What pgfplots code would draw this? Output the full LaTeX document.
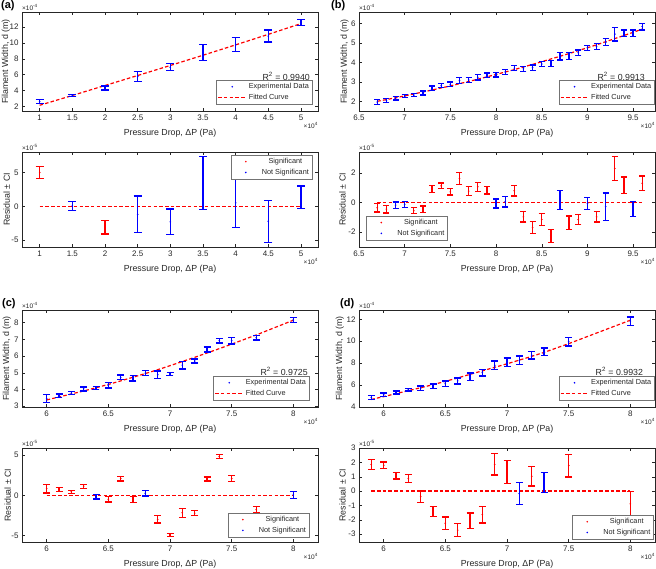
\documentclass[border=0pt]{standalone}
\usepackage{pgfplots}
\usepackage{pgfplotstable}
\usepackage{fontspec}
\setmainfont{Liberation Sans}
\pgfplotsset{compat=1.18}

\definecolor{axgray}{gray}{0.15}
\definecolor{mblue}{rgb}{0,0,1}
\definecolor{mred}{rgb}{1,0,0}

\pgfplotsset{
  panel/.style={
    scale only axis, width=296pt, clip=false,
    /pgf/number format/assume math mode=true,
    scaled ticks=false,
    axis line style={draw=axgray, line width=0.4pt},
    every tick/.style={draw=axgray, line width=0.4pt},
    major tick length=3pt,
    tick label style={text=axgray, font=\fontsize{8}{9}\selectfont},
    label style={text=axgray, font=\fontsize{8.8}{10}\selectfont},
    xlabel={Pressure Drop, ΔP (Pa)},
    xlabel style={yshift=-2.5pt},
    ylabel style={at={(axis description cs:-0.04,0.5)}, anchor=south, inner sep=0pt},
    legend style={font=\fontsize{7.3}{8.5}\selectfont, draw=black!55, line width=0.4pt,
      inner xsep=1pt, inner ysep=1pt, row sep=0pt, text=axgray},
  },
  fitpanel/.style={panel, ylabel={Filament Width, d (m)}, legend cell align=left},
  respanel/.style={panel, ylabel={Residual ± CI}, legend style={cells={anchor=center}}},
  ebar/.style 2 args={only marks, mark=*, mark size=0.6pt, color=#1,
    mark options={draw=#1, fill=#1},
    error bars/y dir=both, error bars/y explicit,
    error bars/error bar style={line width=1.3pt, draw=#1, solid},
    error bars/error mark options={draw=#1, rotate=90, mark size=#2, line width=1.3pt, solid}},
  fitline/.style={draw=mred, line width=1.2pt, dash pattern=on 3.5pt off 2.2pt},
}

\newcommand{\dotlegend}[1]{\addlegendimage{legend image code/.code={\path[draw=none] (0pt,0pt) -- (28pt,0pt); \fill[#1, draw=none] (14pt,0pt) circle (0.9pt);}}}
\newcommand{\fitlegend}{\addlegendimage{legend image code/.code={\draw[draw=mred, line width=1.2pt, dash pattern=on 3.5pt off 2.2pt] (0pt,0pt) -- (28pt,0pt);}}}
\newcommand{\expo}[1]{\node[anchor=south west, inner sep=0pt, font=\fontsize{6.5}{7}\selectfont, text=axgray] at (rel axis cs:0,1) [yshift=1.5pt] {×10\textsuperscript{#1}};}
\newcommand{\xexpo}{\node[anchor=north east, inner sep=0pt, font=\fontsize{6.5}{7}\selectfont, text=axgray] at (rel axis cs:1,0) [yshift=-11.5pt] {×10\textsuperscript{4}};}
\newcommand{\rsq}[3]{\node[anchor=south east, inner sep=0pt, font=\fontsize{8.8}{10}\selectfont, text=axgray] at (rel axis cs:#1,#2) {R\textsuperscript{2} = #3};}

% ---------- (a) ----------
\pgfplotstableread{
x   y     e    f
1   2.62  0.25 2.12
1.5 3.37  0.15 3.36
2   4.31  0.25 4.62
2.5 5.76  0.65 5.88
3   6.92  0.45 7.15
3.5 8.79  1.00 8.44
4   9.80  0.88 9.75
4.5 10.86 0.75 11.08
5   12.58 0.36 12.44
}\fitA
\pgfplotstableread{
x r e
1 4.98 0.87
2 -3.07 1.00
}\sigA
\pgfplotstableread{
x   r     e
1.5 0.05  0.64
2.5 -1.20 2.70
3   -2.30 1.90
3.5 3.45  3.90
4   0.50  3.60
4.5 -2.20 3.10
5   1.35  1.65
}\nsigA

% ---------- (b) ----------
\pgfplotstableread{
x   y    e    f
6.7 1.96 0.12 2.00
6.8 2.05 0.10 2.09
6.9 2.16 0.10 2.18
7.0 2.26 0.08 2.28
7.1 2.32 0.08 2.38
7.2 2.43 0.10 2.48
7.3 2.67 0.12 2.58
7.4 2.80 0.10 2.69
7.5 2.87 0.12 2.79
7.6 3.07 0.17 2.91
7.7 3.10 0.14 3.02
7.8 3.24 0.14 3.14
7.9 3.34 0.12 3.26
8.0 3.37 0.12 3.38
8.1 3.51 0.14 3.51
8.2 3.71 0.12 3.63
8.3 3.67 0.12 3.77
8.4 3.73 0.14 3.90
8.5 3.92 0.14 4.04
8.6 3.95 0.16 4.18
8.7 4.33 0.20 4.32
8.8 4.33 0.17 4.46
8.9 4.50 0.14 4.61
9.0 4.75 0.14 4.76
9.1 4.82 0.14 4.91
9.2 5.04 0.18 5.07
9.3 5.46 0.35 5.23
9.4 5.51 0.17 5.39
9.5 5.51 0.17 5.55
9.6 5.85 0.17 5.72
}\fitB
\pgfplotstableread{
x   r     e
6.7 -0.36 0.28
6.8 -0.45 0.25
7.1 -0.56 0.20
7.2 -0.45 0.22
7.3 0.90  0.25
7.4 1.12  0.20
7.5 0.72  0.22
7.6 1.62  0.40
7.7 0.76  0.30
7.8 1.06  0.30
7.9 0.83  0.25
8.2 0.79  0.35
8.3 -0.97 0.35
8.4 -1.69 0.40
8.5 -1.15 0.40
8.6 -2.25 0.45
8.8 -1.37 0.45
8.9 -1.15 0.35
9.1 -0.97 0.35
9.3 2.29  0.80
9.4 1.17  0.55
9.6 1.29  0.50
}\sigB
\pgfplotstableread{
x   r     e
6.9 -0.18 0.22
7.0 -0.13 0.20
8.0 -0.07 0.30
8.1 0.04  0.35
8.7 0.17  0.62
9.0 -0.07 0.40
9.2 -0.28 0.92
9.5 -0.43 0.50
}\nsigB

% ---------- (c) ----------
\pgfplotstableread{
x   y    e    f
6.0 3.45 0.24 3.37
6.1 3.62 0.11 3.55
6.2 3.78 0.08 3.73
6.3 4.03 0.12 3.91
6.4 4.08 0.09 4.10
6.5 4.25 0.16 4.30
6.6 4.72 0.14 4.51
6.7 4.68 0.17 4.73
6.8 4.98 0.14 4.95
6.9 4.88 0.22 5.18
7.0 4.93 0.09 5.42
7.1 5.45 0.22 5.67
7.2 5.70 0.12 5.92
7.3 6.39 0.15 6.18
7.4 6.92 0.14 6.44
7.5 6.92 0.20 6.71
7.7 7.09 0.14 7.26
8.0 8.15 0.16 8.14
}\fitC
\pgfplotstableread{
x   r     e
6.0 0.84  0.55
6.1 0.70  0.25
6.2 0.45  0.17
6.3 1.15  0.25
6.5 -0.49 0.33
6.6 2.10  0.29
6.7 -0.51 0.35
6.9 -2.98 0.47
7.0 -4.94 0.20
7.1 -2.16 0.55
7.2 -2.20 0.31
7.3 2.06  0.25
7.4 4.84  0.27
7.5 2.10  0.41
7.7 -1.75 0.35
}\sigC
\pgfplotstableread{
x   r     e
6.4 -0.19 0.27
6.8 0.27  0.35
8.0 0.06  0.43
}\nsigC

% ---------- (d) ----------
\pgfplotstableread{
x   y     e    f
5.9 4.88  0.20 4.69
6.0 5.13  0.15 4.95
6.1 5.33  0.14 5.22
6.2 5.58  0.12 5.49
6.3 5.72  0.21 5.76
6.4 5.90  0.21 6.04
6.5 6.12  0.26 6.34
6.6 6.38  0.27 6.65
6.7 6.77  0.32 6.98
6.8 7.14  0.31 7.30
6.9 7.81  0.38 7.62
7.0 8.07  0.40 7.94
7.1 8.26  0.40 8.28
7.2 8.72  0.35 8.62
7.3 9.04  0.35 8.98
7.5 9.96  0.40 9.78
8.0 11.83 0.38 11.92
}\fitD
\pgfplotstableread{
x   r     e
5.9 1.85  0.35
6.0 1.80  0.23
6.1 1.05  0.22
6.2 0.88  0.28
6.3 -0.39 0.39
6.4 -1.42 0.36
6.5 -2.24 0.44
6.6 -2.72 0.46
6.7 -2.06 0.53
6.8 -1.64 0.58
6.9 1.86  0.75
7.0 1.32  0.79
7.2 1.03  0.68
7.5 1.78  0.79
8.0 -0.89 0.84
}\sigD
\pgfplotstableread{
x   r     e
7.1 -0.17 0.75
7.3 0.58  0.69
}\nsigD

\begin{document}
\begin{tikzpicture}
\useasboundingbox (0,0) rectangle (656pt,-568pt);

% ===== (a) filament width =====
\begin{axis}[fitpanel, at={(22pt,-12pt)}, anchor=north west, height=99pt,
  xmin=0.73, xmax=5.26, ymin=1.4, ymax=13.9,
  xtick={1,1.5,2,2.5,3,3.5,4,4.5,5}, ytick={2,4,6,8,10,12},
  legend style={at={(0.98,0.07)}, anchor=south east}]
\dotlegend{mblue}\addlegendentry{Experimental Data}
\fitlegend\addlegendentry{Fitted Curve}
\addplot[fitline, forget plot] table[x=x, y=f] {\fitA};
\addplot[ebar={mblue}{4pt}, forget plot] table[x=x, y=y, y error=e] {\fitA};
\rsq{0.973}{0.31}{0.9940}
\expo{-4}\xexpo
\end{axis}

% ===== (a) residuals =====
\begin{axis}[respanel, at={(22pt,-152pt)}, anchor=north west, height=95pt,
  xmin=0.73, xmax=5.26, ymin=-6, ymax=8,
  xtick={1,1.5,2,2.5,3,3.5,4,4.5,5}, ytick={-5,0,5},
  legend style={at={(0.98,0.968)}, anchor=north east}]
\dotlegend{mred}\addlegendentry{Significant}
\dotlegend{mblue}\addlegendentry{Not Significant}
\addplot[fitline, forget plot] coordinates {(1,0) (5,0)};
\addplot[ebar={mred}{4pt}, forget plot] table[x=x, y=r, y error=e] {\sigA};
\addplot[ebar={mblue}{4pt}, forget plot] table[x=x, y=r, y error=e] {\nsigA};
\expo{-5}\xexpo
\end{axis}

% ===== (b) filament width =====
\begin{axis}[fitpanel, at={(359pt,-12pt)}, anchor=north west, height=99pt,
  xmin=6.5, xmax=9.74, ymin=1.5, ymax=6.6,
  xtick={6.5,7,7.5,8,8.5,9,9.5}, ytick={2,3,4,5,6},
  ylabel style={at={(axis description cs:-0.034,0.5)}},
  legend style={at={(0.998,0.07)}, anchor=south east}]
\dotlegend{mblue}\addlegendentry{Experimental Data}
\fitlegend\addlegendentry{Fitted Curve}
\addplot[fitline, forget plot] table[x=x, y=f] {\fitB};
\addplot[ebar={mblue}{3pt}, forget plot] table[x=x, y=y, y error=e] {\fitB};
\rsq{0.966}{0.31}{0.9913}
\expo{-4}\xexpo
\end{axis}

% ===== (b) residuals =====
\begin{axis}[respanel, at={(359pt,-152pt)}, anchor=north west, height=95pt,
  xmin=6.5, xmax=9.74, ymin=-3, ymax=3.4,
  xtick={6.5,7,7.5,8,8.5,9,9.5}, ytick={-2,0,2},
  ylabel style={at={(axis description cs:-0.044,0.5)}},
  legend style={at={(0.024,0.074)}, anchor=south west}]
\dotlegend{mred}\addlegendentry{Significant}
\dotlegend{mblue}\addlegendentry{Not Significant}
\addplot[fitline, forget plot] coordinates {(6.7,0) (9.6,0)};
\addplot[ebar={mred}{3pt}, forget plot] table[x=x, y=r, y error=e] {\sigB};
\addplot[ebar={mblue}{3pt}, forget plot] table[x=x, y=r, y error=e] {\nsigB};
\expo{-5}\xexpo
\end{axis}

% ===== (c) filament width =====
\begin{axis}[fitpanel, at={(22pt,-310pt)}, anchor=north west, height=97pt,
  xmin=5.8, xmax=8.2, ymin=2.95, ymax=8.75,
  xtick={6,6.5,7,7.5,8}, ytick={3,4,5,6,7,8},
  ylabel style={at={(axis description cs:-0.037,0.5)}},
  legend style={at={(0.97,0.07)}, anchor=south east}]
\dotlegend{mblue}\addlegendentry{Experimental Data}
\fitlegend\addlegendentry{Fitted Curve}
\addplot[fitline, forget plot] table[x=x, y=f] {\fitC};
\addplot[ebar={mblue}{3.5pt}, forget plot] table[x=x, y=y, y error=e] {\fitC};
\rsq{0.966}{0.32}{0.9725}
\expo{-4}\xexpo
\end{axis}

% ===== (c) residuals =====
\begin{axis}[respanel, at={(22pt,-448pt)}, anchor=north west, height=94pt,
  xmin=5.8, xmax=8.2, ymin=-5.8, ymax=5.9,
  xtick={6,6.5,7,7.5,8}, ytick={-5,0,5},
  ylabel style={at={(axis description cs:-0.037,0.5)}},
  legend style={at={(0.97,0.053)}, anchor=south east}]
\dotlegend{mred}\addlegendentry{Significant}
\dotlegend{mblue}\addlegendentry{Not Significant}
\addplot[fitline, forget plot] coordinates {(6,0) (8,0)};
\addplot[ebar={mred}{3.5pt}, forget plot] table[x=x, y=r, y error=e] {\sigC};
\addplot[ebar={mblue}{3.5pt}, forget plot] table[x=x, y=r, y error=e] {\nsigC};
\expo{-5}\xexpo
\end{axis}

% ===== (d) filament width =====
\begin{axis}[fitpanel, at={(359pt,-310pt)}, anchor=north west, height=97pt,
  xmin=5.8, xmax=8.2, ymin=4, ymax=12.85,
  xtick={6,6.5,7,7.5,8}, ytick={4,6,8,10,12},
  ylabel style={at={(axis description cs:-0.05,0.5)}},
  legend style={at={(0.998,0.07)}, anchor=south east}]
\dotlegend{mblue}\addlegendentry{Experimental Data}
\fitlegend\addlegendentry{Fitted Curve}
\addplot[fitline, forget plot] table[x=x, y=f] {\fitD};
\addplot[ebar={mblue}{3.5pt}, forget plot] table[x=x, y=y, y error=e] {\fitD};
\rsq{0.96}{0.32}{0.9932}
\expo{-4}\xexpo
\end{axis}

% ===== (d) residuals =====
\begin{axis}[respanel, at={(359pt,-448pt)}, anchor=north west, height=94pt,
  xmin=5.8, xmax=8.2, ymin=-3.55, ymax=3,
  xtick={6,6.5,7,7.5,8}, ytick={-3,-2,-1,0,1,2,3},
  ylabel style={at={(axis description cs:-0.044,0.5)}},
  legend style={at={(0.995,0.03)}, anchor=south east}]
\dotlegend{mred}\addlegendentry{Significant}
\dotlegend{mblue}\addlegendentry{Not Significant}
\addplot[fitline, forget plot] coordinates {(5.9,0) (8,0)};
\addplot[ebar={mred}{3.5pt}, forget plot] table[x=x, y=r, y error=e] {\sigD};
\addplot[ebar={mblue}{3.5pt}, forget plot] table[x=x, y=r, y error=e] {\nsigD};
\expo{-5}\xexpo
\end{axis}

% panel letters
\node[anchor=base west, inner sep=0pt, font=\bfseries\fontsize{11}{12}\selectfont] at (1pt,-8pt) {(a)};
\node[anchor=base west, inner sep=0pt, font=\bfseries\fontsize{11}{12}\selectfont] at (331pt,-8pt) {(b)};
\node[anchor=base west, inner sep=0pt, font=\bfseries\fontsize{11}{12}\selectfont] at (2pt,-306pt) {(c)};
\node[anchor=base west, inner sep=0pt, font=\bfseries\fontsize{11}{12}\selectfont] at (340pt,-306pt) {(d)};
\end{tikzpicture}
\end{document}
